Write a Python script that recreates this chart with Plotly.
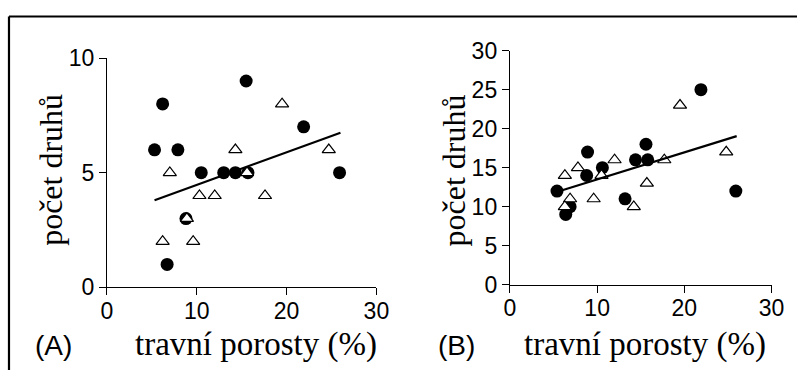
import plotly.graph_objects as go

# ---- data ----
# Panel A
a_circ_x = [6.2, 15.5, 5.3, 7.9, 21.9, 10.5, 13.0, 14.3, 15.7, 25.9, 8.8, 6.7]
a_circ_y = [8, 9, 6, 6, 7, 5, 5, 5, 5, 5, 3, 1]
a_tri_x = [7.0, 6.2, 9.6, 10.3, 12.0, 17.6, 14.3, 19.5, 24.7, 15.6, 8.9]
a_tri_y = [5, 2, 2, 4, 4, 4, 6, 8, 6, 5, 3]
a_fit_x = [5.3, 26.0]
a_fit_y = [3.8, 6.74]

# Panel B
b_circ_x = [21.9, 8.9, 15.6, 14.4, 15.8, 10.6, 8.8, 5.4, 13.2, 25.9, 6.4, 6.9]
b_circ_y = [25, 17, 18, 16, 16, 15, 14, 12, 11, 12, 9, 10]
b_tri_x = [19.5, 24.8, 17.7, 12.0, 7.8, 6.3, 10.5, 15.7, 9.6, 14.2, 6.9, 6.3]
b_tri_y = [23, 17, 16, 16, 15, 14, 14, 13, 11, 10, 11, 10]
b_fit_x = [6.0, 26.0]
b_fit_y = [12.1, 19.05]

x_ticks = [0, 10, 20, 30]
a_y_ticks = [0, 5, 10]
b_y_ticks = [0, 5, 10, 15, 20, 25, 30]

x_title = "travní porosty (%)"
y_title = "počet druhů"
panel_labels = ["(A)", "(B)"]

W, H = 810, 383
SANS = "Liberation Sans"
SERIF = "Liberation Serif"

# the photographed page shows the figure slightly scaled/offset;
# these convert target picture pixels into figure pixels
SX, OX = 0.98, 6.0
SY, OY = 0.935, 11.5


def px(x):
    return ((x - OX) / SX) / W


def py(y):
    return 1 - ((y - OY) / SY) / H


fig = go.Figure()

circle_marker = dict(symbol="circle", size=13, color="black", line=dict(width=0))
tri_marker = dict(symbol="triangle-up", size=11.5, color="white",
                  line=dict(color="black", width=1.2))

for xa, ya, cx, cy, tx, ty, fx, fy in [
    ("x", "y", a_circ_x, a_circ_y, a_tri_x, a_tri_y, a_fit_x, a_fit_y),
    ("x2", "y2", b_circ_x, b_circ_y, b_tri_x, b_tri_y, b_fit_x, b_fit_y),
]:
    fig.add_trace(go.Scatter(x=cx, y=cy, mode="markers", marker=circle_marker,
                             xaxis=xa, yaxis=ya, cliponaxis=False, showlegend=False,
                             hoverinfo="skip"))
    fig.add_trace(go.Scatter(x=tx, y=ty, mode="markers", marker=tri_marker,
                             xaxis=xa, yaxis=ya, cliponaxis=False, showlegend=False,
                             hoverinfo="skip"))
    fig.add_trace(go.Scatter(x=fx, y=fy, mode="lines", line=dict(color="black", width=2.2),
                             xaxis=xa, yaxis=ya, showlegend=False, hoverinfo="skip"))

axis_common = dict(showline=True, linecolor="black", linewidth=1.1, ticks="outside",
                   ticklen=7, tickwidth=1.1, tickcolor="black", showgrid=False,
                   zeroline=False, tickfont=dict(family=SANS, size=23, color="black"),
                   fixedrange=True)

fig.update_layout(
    width=W, height=H,
    margin=dict(l=0, r=0, t=0, b=0),
    paper_bgcolor="white", plot_bgcolor="white",
    xaxis=dict(axis_common, domain=[px(107.3), px(377.7)], range=[0, 30],
               tickvals=x_ticks, anchor="y", ticklabelstandoff=-4),
    yaxis=dict(axis_common, domain=[py(286.7), py(56.7)], range=[0, 10],
               tickvals=a_y_ticks, anchor="x"),
    xaxis2=dict(axis_common, domain=[px(511.7), px(774.3)], range=[0, 30],
                tickvals=x_ticks, anchor="y2", ticklabelstandoff=-4),
    yaxis2=dict(axis_common, domain=[py(284), py(49.3)], range=[0, 30],
                tickvals=b_y_ticks, anchor="x2"),
)

ann = []
for cxp, ytcx in [(256.5, 51), (647, 456)]:
    ann.append(dict(text=x_title, x=px(cxp), y=py(344), xref="paper", yref="paper",
                    xanchor="center", yanchor="middle", showarrow=False,
                    font=dict(family=SERIF, size=33, color="black")))
    ann.append(dict(text=y_title, x=px(ytcx), y=py(169), xref="paper", yref="paper",
                    xanchor="center", yanchor="middle", showarrow=False, textangle=-90,
                    font=dict(family=SERIF, size=32, color="black")))
for lab, lx in zip(panel_labels, [54, 458]):
    ann.append(dict(text=lab, x=px(lx), y=py(345), xref="paper", yref="paper",
                    xanchor="center", yanchor="middle", showarrow=False,
                    font=dict(family=SANS, size=28, color="black")))
fig.update_layout(annotations=ann)

# outer frame (top and left edges visible)
fig.add_shape(type="line", xref="paper", yref="paper", x0=px(9), x1=1.0, y0=py(15), y1=py(15),
              line=dict(color="black", width=2.2))
fig.add_shape(type="line", xref="paper", yref="paper", x0=px(9), x1=px(9), y0=0, y1=py(15),
              line=dict(color="black", width=2.2))

fig.write_html(
    "out.html",
    config={"displayModeBar": False, "staticPlot": True},
    post_script="document.body.style.margin='0';document.body.style.padding='0';"
                "document.documentElement.style.overflow='hidden';",
)
